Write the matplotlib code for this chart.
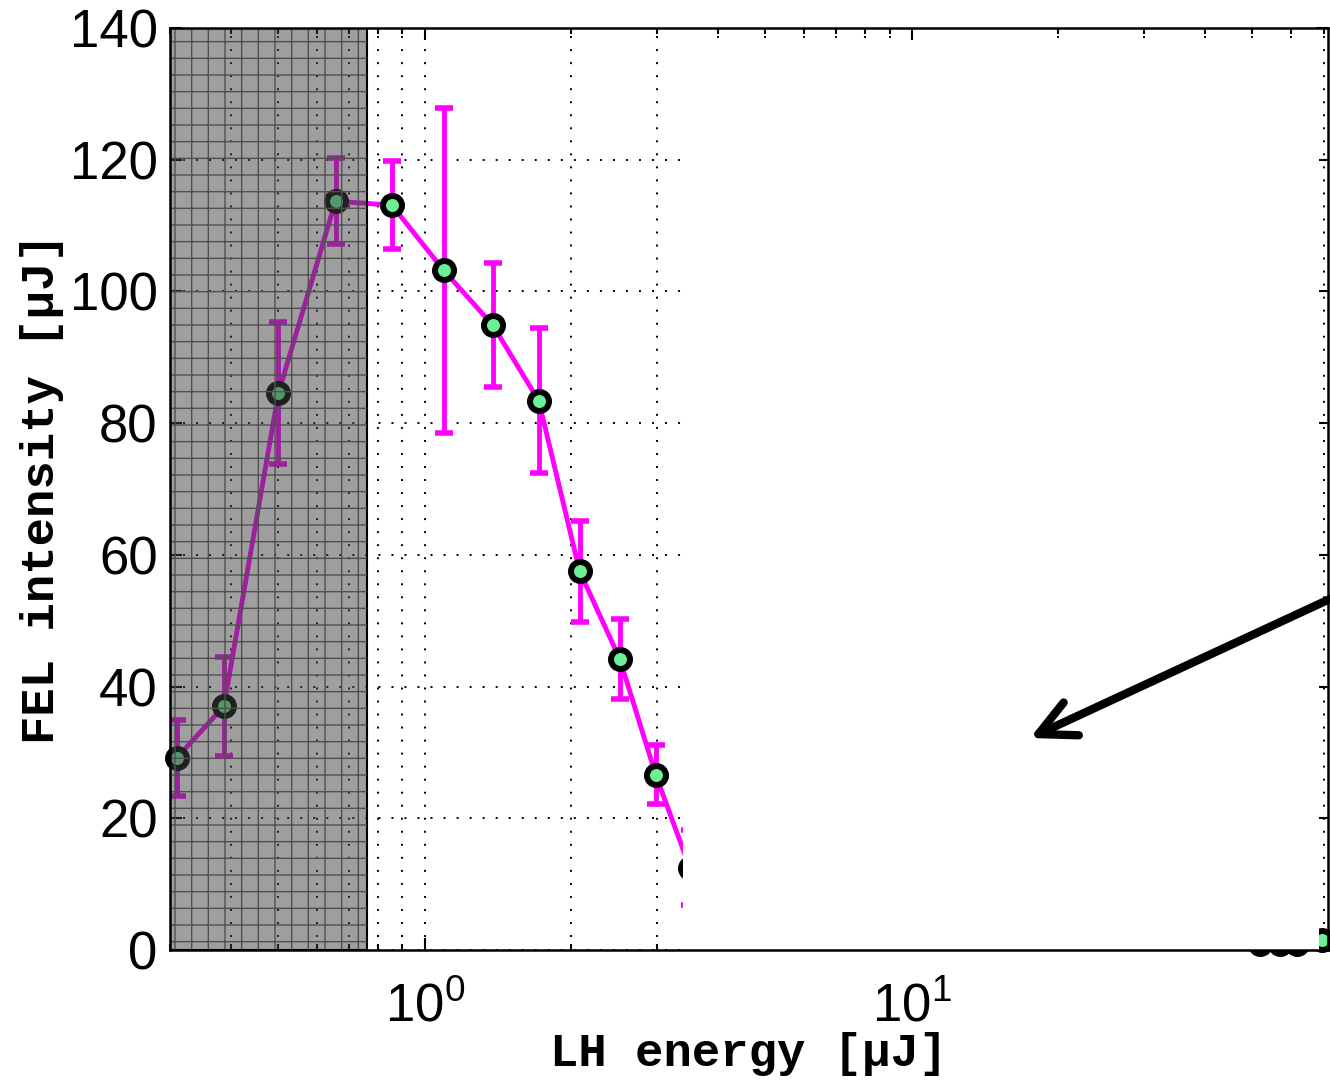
import matplotlib
matplotlib.use('Agg')
import matplotlib.pyplot as plt
from matplotlib.patches import Rectangle, FancyArrowPatch
from matplotlib.ticker import FixedLocator, NullFormatter

plt.rcParams['font.family'] = ['Liberation Sans', 'DejaVu Sans']
plt.rcParams['hatch.linewidth'] = 1.0

# LH energy [uJ] vs FEL intensity [uJ] with error bars
lh_energy = [0.31, 0.387, 0.501, 0.656, 0.856, 1.094, 1.379, 1.714, 2.08, 2.514, 2.98, 3.5,
             4.2, 5.0, 6.0, 7.2, 8.6, 10.3, 12.4, 14.9, 17.9, 21.4, 25.5, 30.4,
             36.5, 43.5, 51.8, 56.9, 61.7, 69.6]
fel_intensity = [29.2, 37.0, 84.6, 113.7, 113.1, 103.2, 94.9, 83.4, 57.5, 44.2, 26.6, 12.5,
                 6.5, 3.8, 2.6, 2.3, 2.3, 2.3, 2.3, 2.3, 2.3, 2.3, 2.2, 2.2,
                 2.3, 2.3, 0.9, 0.9, 0.9, 1.5]
fel_err = [5.8, 7.5, 10.8, 6.5, 6.7, 24.7, 9.4, 11.0, 7.7, 6.1, 4.5, 5.7,
           3.0, 1.5, 0.8, 0.3, 0.3, 0.3, 0.3, 0.3, 0.3, 0.3, 2.2, 2.2,
           0.3, 0.3, 0.0, 0.0, 0.0, 0.0]

# shaded low-energy region and hidden (blanked) region
shade_range = (0.3, 0.76)
blank_x = (3.39, 68.5)
blank_y = (0.05, 137.1)

y_ticks = [0, 20, 40, 60, 80, 100, 120, 140]
x_major = [1, 10]
x_major_labels = [r'$\mathregular{10^{0}}$', r'$\mathregular{10^{1}}$']
x_minor = [0.3, 0.4, 0.5, 0.6, 0.7, 0.8, 0.9, 2, 3, 4, 5, 6, 7, 8, 9,
           20, 30, 40, 50, 60, 70]

fig = plt.figure(figsize=(13.3, 10.81), dpi=100)
ax = fig.add_axes([170 / 1330, 131 / 1081, 1158 / 1330, 922 / 1081])
ax.set_xscale('log')
ax.set_xlim(0.3, 71.5)
ax.set_ylim(0, 140)
ax.set_axisbelow(False)

ax.errorbar(lh_energy, fel_intensity, yerr=fel_err, fmt='none', ecolor='#ff00ff',
            elinewidth=3.5, capsize=6.5, capthick=4, zorder=3)
ax.plot(lh_energy, fel_intensity, '-', color='#ff00ff', lw=3.5, zorder=3.1)
ax.plot(lh_energy, fel_intensity, 'o', ms=13.7, mfc='#6cf095', mec='k', mew=4.3,
        zorder=3.2, clip_on=False)

ax.add_patch(Rectangle((shade_range[0], 0), shade_range[1] - shade_range[0], 140,
                       facecolor=(0.25, 0.25, 0.25, 0.5), edgecolor='k', lw=1.5, zorder=4))
ax.add_patch(Rectangle((shade_range[0], 0), shade_range[1] - shade_range[0], 140,
                       facecolor='none', edgecolor='#505050', hatch='+', lw=0, zorder=4.1))
ax.add_patch(Rectangle((blank_x[0], blank_y[0]), blank_x[1] - blank_x[0], blank_y[1] - blank_y[0],
                       facecolor='white', edgecolor='none', zorder=5))

ax.xaxis.set_major_locator(FixedLocator(x_major))
ax.set_xticklabels(x_major_labels)
ax.xaxis.set_minor_locator(FixedLocator(x_minor))
ax.xaxis.set_minor_formatter(NullFormatter())
ax.set_yticks(y_ticks)

grid_style = dict(color='k', linestyle=(0, (1, 5.7)), linewidth=1.4)
ax.grid(True, which='both', axis='x', **grid_style)
ax.grid(True, which='major', axis='y', **grid_style)

ax.tick_params(which='both', direction='in', top=True, right=True, width=1.5)
ax.tick_params(which='major', length=8.6)
ax.tick_params(which='minor', length=4.3)
ax.tick_params(axis='y', labelsize=38, pad=9)
ax.tick_params(axis='x', labelsize=38, pad=23)
for s in ax.spines.values():
    s.set_linewidth(1.8)
    s.set_zorder(6)

label_font = dict(family=['Liberation Mono', 'DejaVu Sans Mono'], fontweight='bold', fontsize=34)
ax.set_xlabel('LH energy [μJ]', labelpad=0, **label_font)
ax.set_ylabel('FEL intensity [μJ]', labelpad=4, **label_font)

arrow = FancyArrowPatch(posA=(1345 / 1330, (1081 - 592) / 1081),
                        posB=(1030 / 1330, (1081 - 738) / 1081),
                        transform=fig.transFigure,
                        arrowstyle='->,head_length=1.3,head_width=0.65',
                        mutation_scale=20, lw=6, color='k', shrinkA=0, shrinkB=0,
                        capstyle='round', joinstyle='round', zorder=10)
fig.add_artist(arrow)

fig.savefig('out.png', dpi=100)
